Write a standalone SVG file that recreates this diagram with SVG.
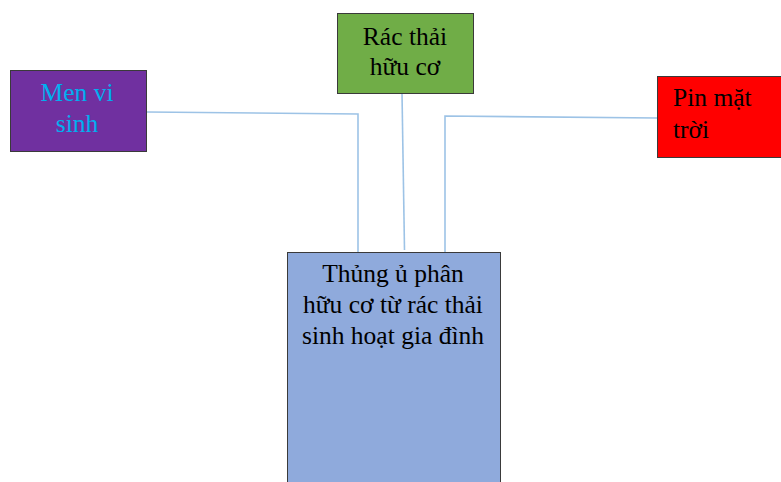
<svg xmlns="http://www.w3.org/2000/svg" width="781" height="482" viewBox="0 0 781 482">
<style>
.box{stroke:#3a3a3a;stroke-width:1}
.t{font-family:'Liberation Serif','Times New Roman',serif;font-size:25.5px;fill:#000}
.c{text-anchor:middle}
.conn{fill:none;stroke:#9dc3e6;stroke-width:1.6}
</style>
<rect width="781" height="482" fill="#fff"/>
<g id="connectors">
<polyline class="conn" points="147,112 358,114 358,252"/>
<line class="conn" x1="402" y1="93" x2="404.5" y2="250"/>
<polyline class="conn" points="657,118 445,116 445,252"/>
</g>
<g id="men-vi-sinh">
<rect class="box" x="10.5" y="70.5" width="136" height="81" fill="#7030a0"/>
<text class="t c" x="77" y="101" style="fill:#00b0f0">Men vi</text>
<text class="t c" x="77" y="132" style="fill:#00b0f0">sinh</text>
</g>
<g id="rac-thai-huu-co">
<rect class="box" x="337.5" y="13.5" width="136" height="80" fill="#70ad47"/>
<text class="t c" x="405" y="45">Rác thải</text>
<text class="t c" x="405" y="75">hữu cơ</text>
</g>
<g id="pin-mat-troi">
<rect class="box" x="657.5" y="76.5" width="124" height="81" fill="#ff0000"/>
<text class="t" x="673" y="106">Pin mặt</text>
<text class="t" x="673" y="138">trời</text>
</g>
<g id="thung-u-phan">
<rect class="box" x="287.5" y="252.5" width="213" height="240" fill="#8faadc"/>
<text class="t c" x="393" y="282">Thủng ủ phân</text>
<text class="t c" x="393" y="313">hữu cơ từ rác thải</text>
<text class="t c" x="393" y="344">sinh hoạt gia đình</text>
</g>
</svg>
